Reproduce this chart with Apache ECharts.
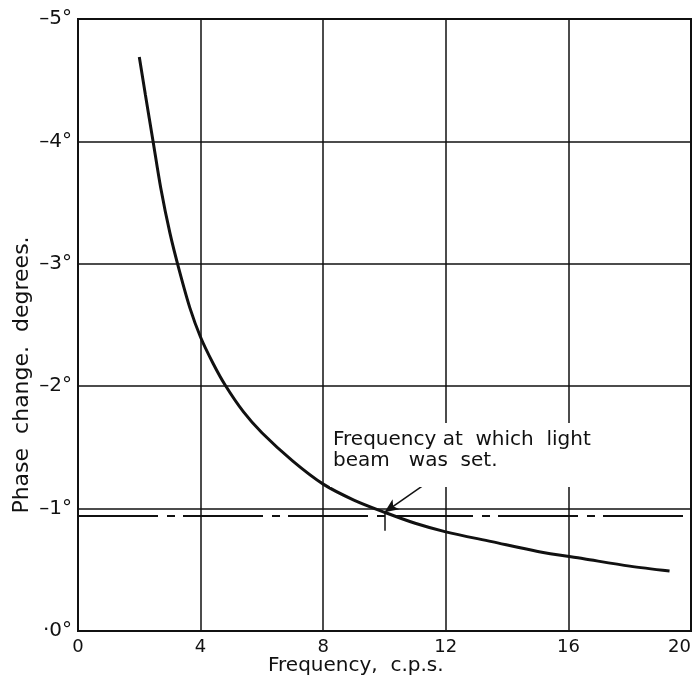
<!DOCTYPE html>
<html>
<head>
<meta charset="utf-8">
<script src="https://cdn.jsdelivr.net/npm/echarts@6/dist/echarts.min.js"></script>
<style>
  html, body { margin: 0; padding: 0; background: #fff; }
  #chart { width: 697px; height: 683px; }
</style>
</head>
<body>
<div id="chart"></div>
<script>
// values (phase lag plotted as positive degrees)
var freq  = [2.0, 2.2, 2.45, 2.7, 3.0, 3.3, 3.65, 4.0, 4.4, 4.8, 5.4, 6.0, 7.0, 8.0, 9.0, 10.0, 11.0, 12.0, 13.5, 15.0, 16.5, 18.0, 19.3];
var phase = [4.69, 4.38, 4.0, 3.62, 3.25, 2.95, 2.64, 2.40, 2.19, 2.01, 1.79, 1.62, 1.39, 1.20, 1.07, 0.97, 0.88, 0.81, 0.73, 0.65, 0.59, 0.53, 0.49];
var xTicks = [0, 4, 8, 12, 16, 20];
var yTickLabels = ['·0°', '–1°', '–2°', '–3°', '–4°', '–5°'];
var refLevel = 0.94;          // dash-dot line
var arrowFrom = [11.5, 1.23];
var arrowTo = [10.0, 0.97];
var markTick = [[10.0, 0.98], [10.0, 0.82]];

var ink = '#111';
var font = 'DejaVu Sans';

var chart = echarts.init(document.getElementById('chart'));

var curve = [];
freq.forEach(function (f, i) {
    curve.push([f, phase[i]]);
});

chart.setOption({
    backgroundColor: '#fff',
    animation: false,
    grid: {
        left: 78, right: 6, top: 19, bottom: 52,
        outerBoundsMode: 'none',
        show: true, borderColor: ink, borderWidth: 2
    },
    xAxis: {
        type: 'value', min: 0, max: 20, interval: 4,
        axisLine: {show: true, lineStyle: {color: ink, width: 2}},
        axisTick: {show: false},
        axisLabel: {
            color: ink, fontSize: 18, fontFamily: font, margin: 7,
            alignMaxLabel: 'right',
            formatter: function (v) { return xTicks.indexOf(v) >= 0 ? String(v) : ''; }
        },
        splitLine: {show: true, lineStyle: {color: ink, width: 1.5}}
    },
    yAxis: {
        type: 'value', min: 0, max: 5, interval: 1,
        axisLine: {show: true, lineStyle: {color: ink, width: 2}},
        axisTick: {show: false},
        axisLabel: {
            color: ink, fontSize: 20, fontFamily: font, margin: 6,
            formatter: function (v) { return yTickLabels[v]; }
        },
        splitLine: {show: true, lineStyle: {color: ink, width: 1.5}}
    },
    series: [
        {
            type: 'line',
            data: curve,
            smooth: 0.3,
            symbol: 'none',
            z: 5,
            lineStyle: {color: ink, width: 3},
            markLine: {
                silent: true,
                symbol: 'none',
                label: {show: false},
                data: [
                    [
                        {coord: [0, refLevel], lineStyle: {type: [80, 9, 8, 8], width: 2, color: ink}},
                        {coord: [20, refLevel]}
                    ],
                    [
                        {coord: arrowFrom, symbol: 'none', lineStyle: {type: 'solid', width: 1.5, color: ink}},
                        {coord: arrowTo, symbol: 'arrow', symbolSize: [9, 14]}
                    ],
                    [
                        {coord: markTick[0], lineStyle: {type: 'solid', width: 1.5, color: ink}},
                        {coord: markTick[1]}
                    ]
                ]
            }
        }
    ],
    graphic: [
        {
            type: 'rect', z: 10,
            shape: {x: 330, y: 423, width: 298, height: 64},
            style: {fill: '#fff'}
        },
        {
            type: 'text', z: 11, left: 333, top: 429,
            style: {
                text: 'Frequency at  which  light\nbeam   was  set.',
                font: '20px "DejaVu Sans"', fill: ink, lineHeight: 21
            }
        },
        {
            type: 'text', z: 11, left: 268, top: 656,
            style: {text: 'Frequency,  c.p.s.', font: '20px "DejaVu Sans"', fill: ink}
        },
        {
            type: 'text', z: 11, x: 22, y: 375, rotation: Math.PI / 2,
            style: {
                text: 'Phase  change.  degrees.', font: '22px "DejaVu Sans"', fill: ink,
                align: 'center', verticalAlign: 'middle'
            }
        }
    ]
});
</script>
</body>
</html>
